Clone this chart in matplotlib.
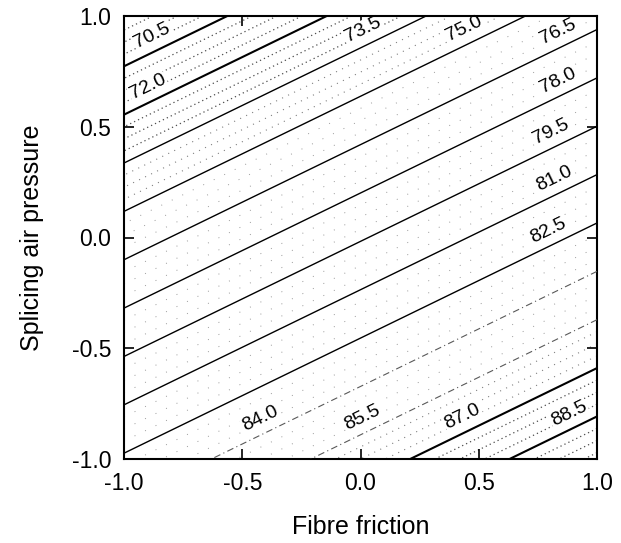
import numpy as np
import matplotlib.pyplot as plt
from matplotlib.ticker import FormatStrFormatter

plt.rcParams['font.family'] = ['Liberation Sans', 'DejaVu Sans']
plt.rcParams['axes.unicode_minus'] = False

# response surface: z = b0 + b1*friction + b2*pressure
b0 = 79.38
b1 = 3.57
b2 = -6.87

major_levels = [70.5, 72.0, 73.5, 75.0, 76.5, 78.0, 79.5, 81.0, 82.5, 84.0, 85.5, 87.0, 88.5]
# x position of each contour label (along the line)
label_x = [-0.88, -0.90, 0.01, 0.44, 0.835, 0.835, 0.805, 0.818, 0.792, -0.424, 0.008, 0.432, 0.881]
ticks = [-1.0, -0.5, 0.0, 0.5, 1.0]

x = np.linspace(-1, 1, 201)
y = np.linspace(-1, 1, 201)
X, Y = np.meshgrid(x, y)
Z = b0 + b1 * X + b2 * Y

fig = plt.figure(figsize=(6.21, 5.43), dpi=100)
ax = fig.add_axes([124 / 621, 1 - 459 / 543, 473 / 621, 443 / 543])

# minor (dotted) contours, denser towards the extremes
minor = []
for lo, hi in zip([69.0] + major_levels, major_levels + [90.0]):
    minor += [lo + (hi - lo) * f for f in (0.25, 0.5, 0.75)]
for lev in minor:
    if lev < 73.5 or lev > 87.0:
        ls, col, lw = (0, (1, 2.5)), '0.3', 0.9
    elif lev < 75.0 or lev > 85.5:
        ls, col, lw = (0, (1, 5)), '0.5', 0.8
    else:
        ls, col, lw = (0, (1, 11)), '0.6', 0.7
    ax.contour(X, Y, Z, levels=[lev], colors=[col], linewidths=lw,
               linestyles=[ls], zorder=1)

# main contours
for lev in major_levels:
    if lev in (84.0, 85.5):
        ls, col, lw = (0, (6, 3, 1, 3)), '0.35', 0.8
    elif lev in (70.5, 72.0, 87.0, 88.5):
        ls, col, lw = 'solid', 'black', 1.5
    else:
        ls, col, lw = 'solid', 'black', 1.0
    ax.contour(X, Y, Z, levels=[lev], colors=[col], linewidths=lw,
               linestyles=[ls], zorder=3)

ax.set_xlim(-1, 1)
ax.set_ylim(-1, 1)

# label angle follows the contour direction on screen
p0 = ax.transData.transform((0, 0))
p1 = ax.transData.transform((1, -b1 / b2))
angle = np.degrees(np.arctan2(p1[1] - p0[1], p1[0] - p0[0]))

for lev, lx in zip(major_levels, label_x):
    ly = (lev - b0 - b1 * lx) / b2
    ax.annotate(f"{lev:.1f}", xy=(lx, ly), xytext=(0, 12),
                textcoords='offset points', ha='center', va='center',
                rotation=angle, fontsize=14, zorder=2,
                bbox=dict(boxstyle='square,pad=0.05', fc='white', ec='none'))

ax.set_xticks(ticks)
ax.set_yticks(ticks)
ax.xaxis.set_major_formatter(FormatStrFormatter('%.1f'))
ax.yaxis.set_major_formatter(FormatStrFormatter('%.1f'))
ax.tick_params(direction='in', length=7, width=1.2, labelsize=16.5,
               top=True, right=True)
ax.tick_params(axis='x', pad=9)
ax.tick_params(axis='y', pad=9)
for s in ax.spines.values():
    s.set_linewidth(1.5)

ax.set_xlabel('Fibre friction', fontsize=18, labelpad=15)
ax.set_ylabel('Splicing air pressure', fontsize=18, labelpad=20)

fig.savefig('out.png', dpi=100)
